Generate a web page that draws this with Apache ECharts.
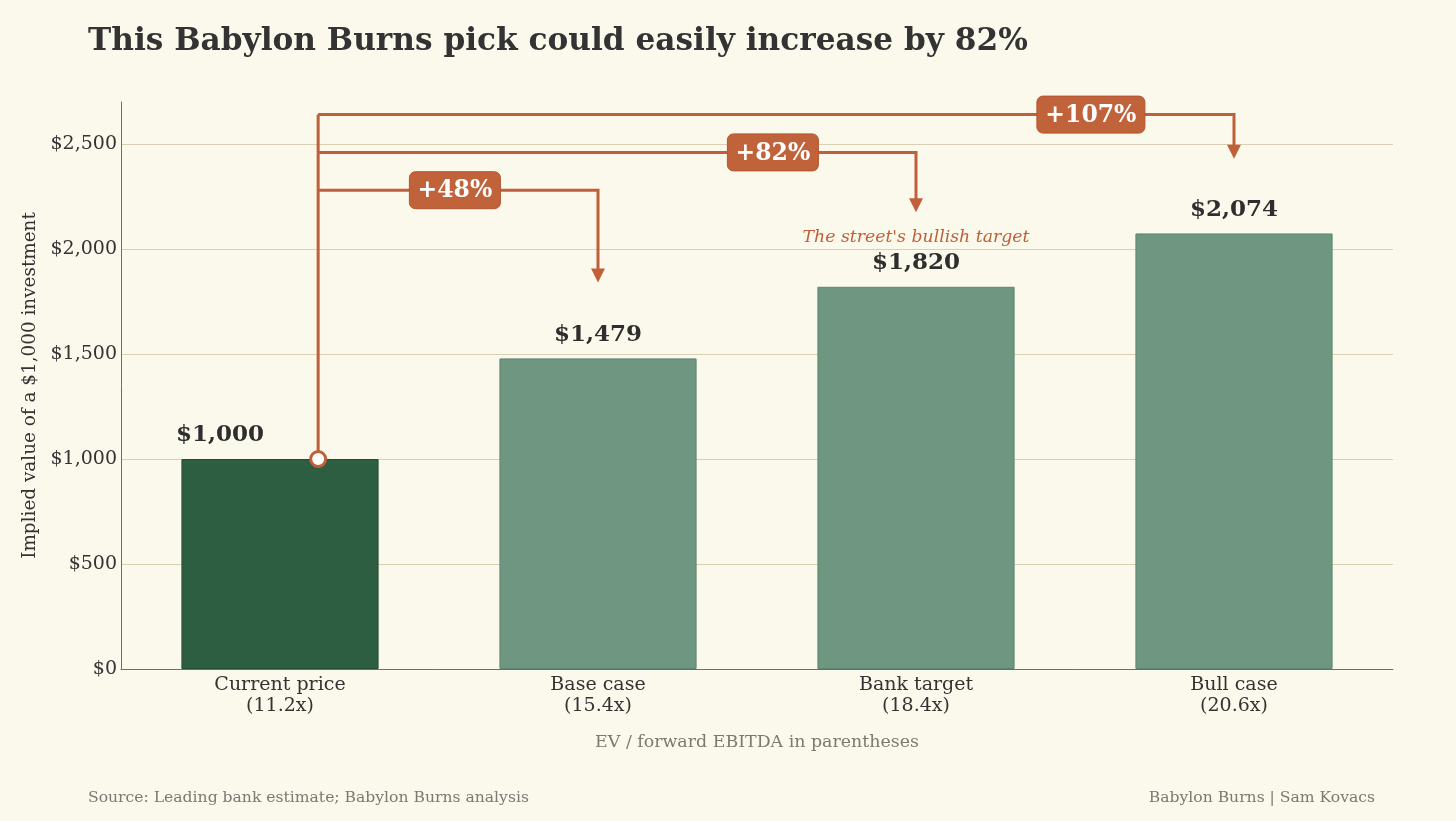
<!DOCTYPE html>
<html lang="en">
<head>
	<meta charset="UTF-8">
	<title>Babylon Burns pick</title>
	<style>
		html,body{margin:0;padding:0;background:#fbf8ec;}
		#main{width:1456px;height:821px;}
	</style>
</head>
<body>
	<div id="main"></div>
	<script src="https://cdn.jsdelivr.net/npm/echarts@6/dist/echarts.min.js"></script>
	<script>
		// data
		var categories = ['Current price\n(11.2x)', 'Base case\n(15.4x)', 'Bank target\n(18.4x)', 'Bull case\n(20.6x)'];
		var values = [1000, 1479, 1820, 2074];
		var upsideLabels = ['+48%', '+82%', '+107%'];
		var bracketLevels = [2280, 2460, 2640];   // height of each bracket line
		var arrowTips = [1840, 2175, 2430];       // where each arrow stops
		var yTicks = [0, 500, 1000, 1500, 2000, 2500];
		var noteText = "The street's bullish target";
		var noteValue = 2057;

		var serif = "'DejaVu Serif', serif";
		var orange = '#c0603a';

		var myChart = echarts.init(document.getElementById('main'));

		function money(v){
			return '$' + v.toLocaleString('en-US');
		}

		// brackets from the current price to each target
		function renderBracket(params, api){
			var i = params.dataIndex;
			var band = api.size([1, 0])[0];
			var start = api.coord([0, values[0]]);
			var sx = start[0] + band * 0.12;
			var lvl = api.coord([0, api.value(1)])[1];
			var tx = api.coord([api.value(0), 0])[0];
			var tip = api.coord([0, api.value(2)])[1];
			var lx = api.coord([i, 0])[0] + band * 0.55;
			var ly = lvl;
			var children = [];
			if(i == 0){
				// the vertical stem and the circle on the first bar
				var top = api.coord([0, bracketLevels[bracketLevels.length - 1]])[1];
				children.push({type:'line', shape:{x1:sx, y1:start[1], x2:sx, y2:top}, style:{stroke:orange, lineWidth:3}});
			}
			children.push({type:'polyline', shape:{points:[[sx, lvl], [tx, lvl], [tx, tip - 12]]}, style:{stroke:orange, lineWidth:3, fill:null}});
			children.push({type:'polygon', shape:{points:[[tx - 7, tip - 14], [tx + 7, tip - 14], [tx, tip]]}, style:{fill:orange}});
			var w = upsideLabels[i].length * 17 + 23;
			children.push({type:'rect', shape:{x:lx - w / 2, y:ly - 18.5, width:w, height:37, r:6}, style:{fill:'#c0623a', stroke:'#b5552f', lineWidth:1}});
			children.push({type:'text', style:{x:lx, y:ly + 1, text:upsideLabels[i], fill:'#fff', font:'bold 23.5px ' + serif, align:'center', verticalAlign:'middle'}});
			if(i == 0){
				children.push({type:'circle', shape:{cx:sx, cy:start[1], r:7.5}, style:{fill:'#fff', stroke:orange, lineWidth:3}});
			}
			if(i == 1){
				var n = api.coord([2, noteValue]);
				children.push({type:'text', style:{x:n[0], y:n[1], text:noteText, fill:orange, font:'italic 17.3px ' + serif, align:'center', verticalAlign:'middle'}});
			}
			return {type:'group', children:children};
		}

		var bracketData = [];
		for(var i = 0; i < upsideLabels.length; i++){
			bracketData.push([i + 1, bracketLevels[i], arrowTips[i]]);
		}

		var barData = [];
		for(var i = 0; i < values.length; i++){
			var first = i == 0;
			barData.push({
				value: values[i],
				itemStyle: {color: first ? '#2e5e42' : '#6e9680', borderColor: first ? '#234d35' : '#5b8570', borderWidth: 1},
				label: first ? {offset:[-60, 0]} : {}
			});
		}

		var option = {
			backgroundColor: '#fbf8ec',
			textStyle: {fontFamily: serif},
			title: [{
				text: 'This Babylon Burns pick could easily increase by 82%',
				left: 83, top: 21,
				textStyle: {fontFamily: serif, fontSize: 31.2, fontWeight: 'bold', color: '#333'}
			}, {
				text: 'Source: Leading bank estimate; Babylon Burns analysis',
				left: 83, top: 785,
				textStyle: {fontFamily: serif, fontSize: 15.6, fontWeight: 'normal', color: '#7a7a72'}
			}, {
				text: 'Babylon Burns | Sam Kovacs',
				right: 76, top: 785,
				textStyle: {fontFamily: serif, fontSize: 15.6, fontWeight: 'normal', color: '#7a7a72'}
			}],
			grid: {left: 121, right: 63, top: 102, bottom: 152, containLabel: false},
			xAxis: {
				type: 'category',
				data: categories,
				name: 'EV / forward EBITDA in parentheses',
				nameLocation: 'middle',
				nameGap: 65,
				nameTextStyle: {fontFamily: serif, fontSize: 17.4, color: '#7a7a6e'},
				axisLine: {lineStyle: {color: '#6e6e66', width: 1}},
				axisTick: {show: false},
				axisLabel: {fontFamily: serif, fontSize: 19, color: '#333', lineHeight: 21, margin: 6}
			},
			yAxis: {
				type: 'value',
				min: 0, max: 2700, interval: 500,
				name: 'Implied value of a $1,000 investment',
				nameLocation: 'middle',
				nameGap: 79,
				nameRotate: 90,
				nameTextStyle: {fontFamily: serif, fontSize: 18.4, color: '#333'},
				axisLine: {show: true, lineStyle: {color: '#6e6e66', width: 1}},
				axisTick: {show: false},
				axisLabel: {
					fontFamily: serif, fontSize: 19, color: '#333', margin: 4,
					formatter: function(v){ return yTicks.indexOf(v) >= 0 ? money(v) : ''; }
				},
				splitLine: {lineStyle: {color: ['#d9d0b4', '#d9d0b4', '#d9d0b4', '#d9d0b4', '#d9d0b4', '#d9d0b4', 'rgba(0,0,0,0)'], width: 1}}
			},
			series: [{
				type: 'bar',
				data: barData,
				barWidth: '62%',
				label: {
					show: true, position: 'top', distance: 12,
					fontFamily: serif, fontSize: 23, fontWeight: 'bold', color: '#2e2e2e',
					formatter: function(p){ return money(p.value); }
				},
				z: 2
			}, {
				type: 'custom',
				data: bracketData,
				renderItem: renderBracket,
				clip: false,
				z: 5,
				silent: true
			}]
		};
		myChart.setOption(option);
	</script>
</body>
</html>
